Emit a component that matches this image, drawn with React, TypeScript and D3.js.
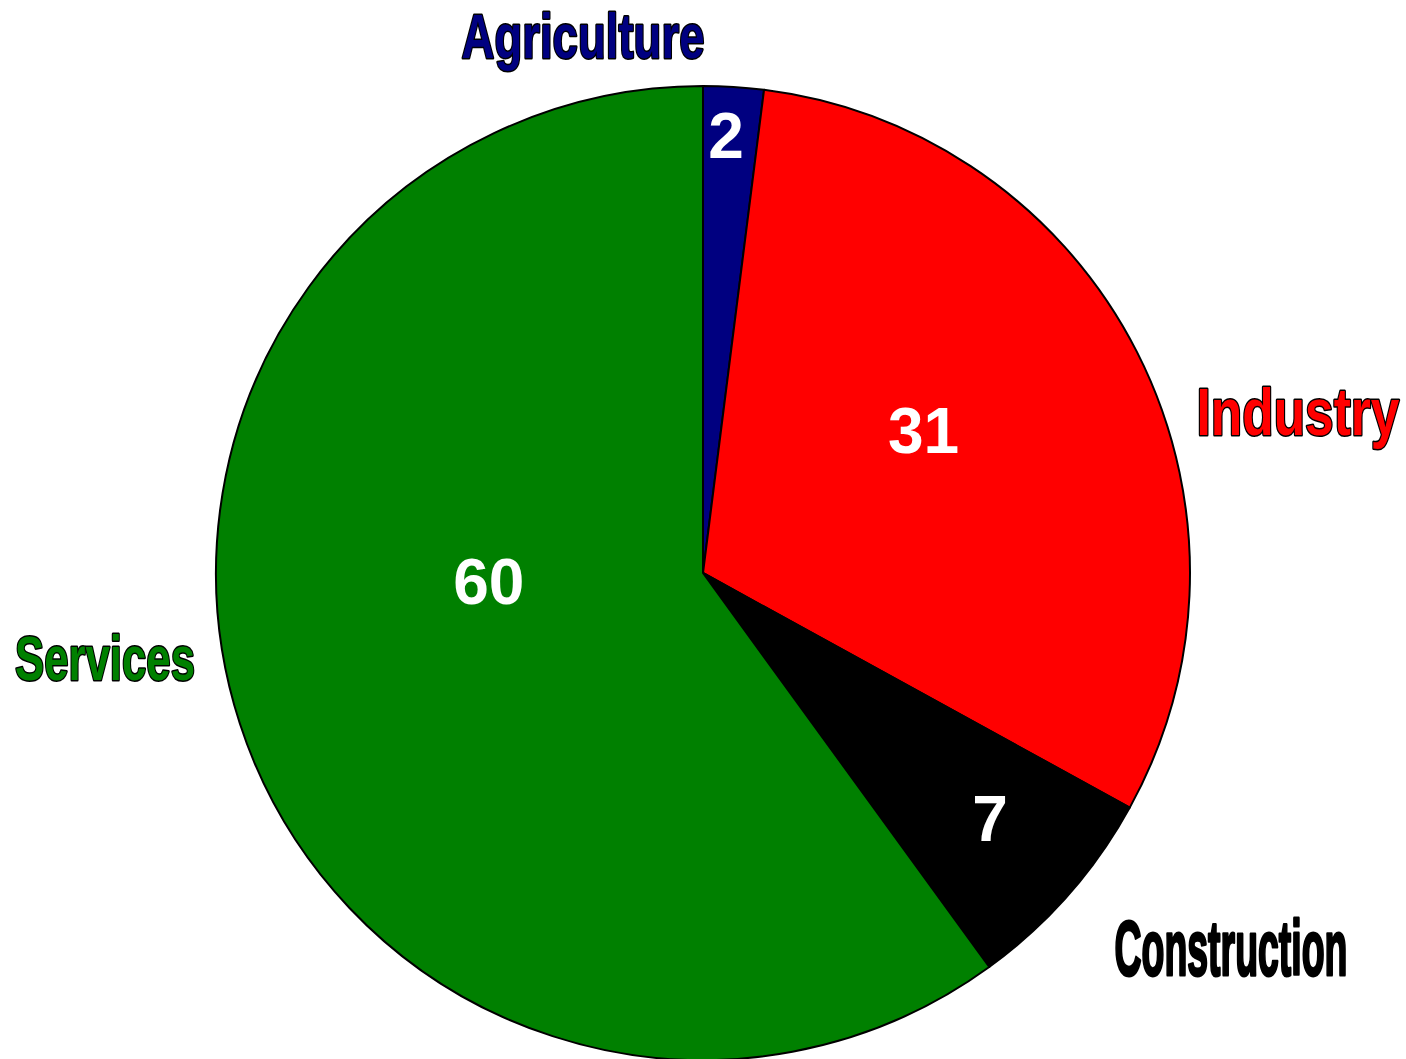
import React from "react";
import * as d3 from "d3";

const categories = ["Agriculture", "Industry", "Construction", "Services"];
const values = [2, 31, 7, 60];
const colors = ["#000080", "#FF0000", "#000000", "#008000"];
// value label placement: polar angle (deg, clockwise from top) and radius fraction
const valueLabelAngle = [3, 57, 130.5, 268];
const valueLabelRadius = [0.9, 0.54, 0.775, 0.44];

const W = 1406;
const H = 1059;
const cx = 703;
const cy = 573;
const R = 487;

const catLabels = [
  { x: 583, y: 58, size: 63, width: 243, anchor: "middle", color: "#000080" },
  { x: 1298, y: 435, size: 67, width: 203, anchor: "middle", color: "#FF0000" },
  { x: 1231, y: 975, size: 77, width: 233, anchor: "middle", color: "#000000" },
  { x: 105, y: 680, size: 63, width: 180, anchor: "middle", color: "#008000" },
];

export default function App() {
  const pie = d3.pie<number>().sort(null).value((d) => d);
  const arcs = pie(values);
  const arc = d3.arc<d3.PieArcDatum<number>>().innerRadius(0).outerRadius(R);
  return (
    <svg width={W} height={H} style={{ display: "block", position: "absolute", left: 0, top: 0 }}>
      <rect width={W} height={H} fill="#fff" />
      <g transform={`translate(${cx},${cy})`}>
        {arcs.map((a, i) => (
          <path key={i} d={arc(a) || ""} fill={colors[i]} stroke="#000" strokeWidth={2} strokeLinejoin="round" />
        ))}
        {arcs.map((a, i) => {
          const ang = (valueLabelAngle[i] * Math.PI) / 180;
          const r = valueLabelRadius[i] * R;
          return (
            <text
              key={"v" + i}
              x={r * Math.sin(ang)}
              y={-r * Math.cos(ang)}
              dy="0.36em"
              textAnchor="middle"
              fill="#fff"
              fontFamily="'Liberation Sans', Arial, sans-serif"
              fontWeight="bold"
              fontSize={64}
            >
              {values[i]}
            </text>
          );
        })}
      </g>
      {catLabels.map((l, i) => (
        <text
          key={"c" + i}
          x={l.x}
          y={l.y}
          textAnchor={l.anchor as any}
          fill={l.color}
          stroke="#000"
          strokeWidth={3}
          strokeLinejoin="round"
          style={{ paintOrder: "stroke" }}
          fontFamily="'Liberation Sans Narrow', 'Arial Narrow', 'Liberation Sans', sans-serif"
          fontWeight="bold"
          fontSize={l.size}
          textLength={l.width}
          lengthAdjust="spacingAndGlyphs"
        >
          {categories[i]}
        </text>
      ))}
    </svg>
  );
}
